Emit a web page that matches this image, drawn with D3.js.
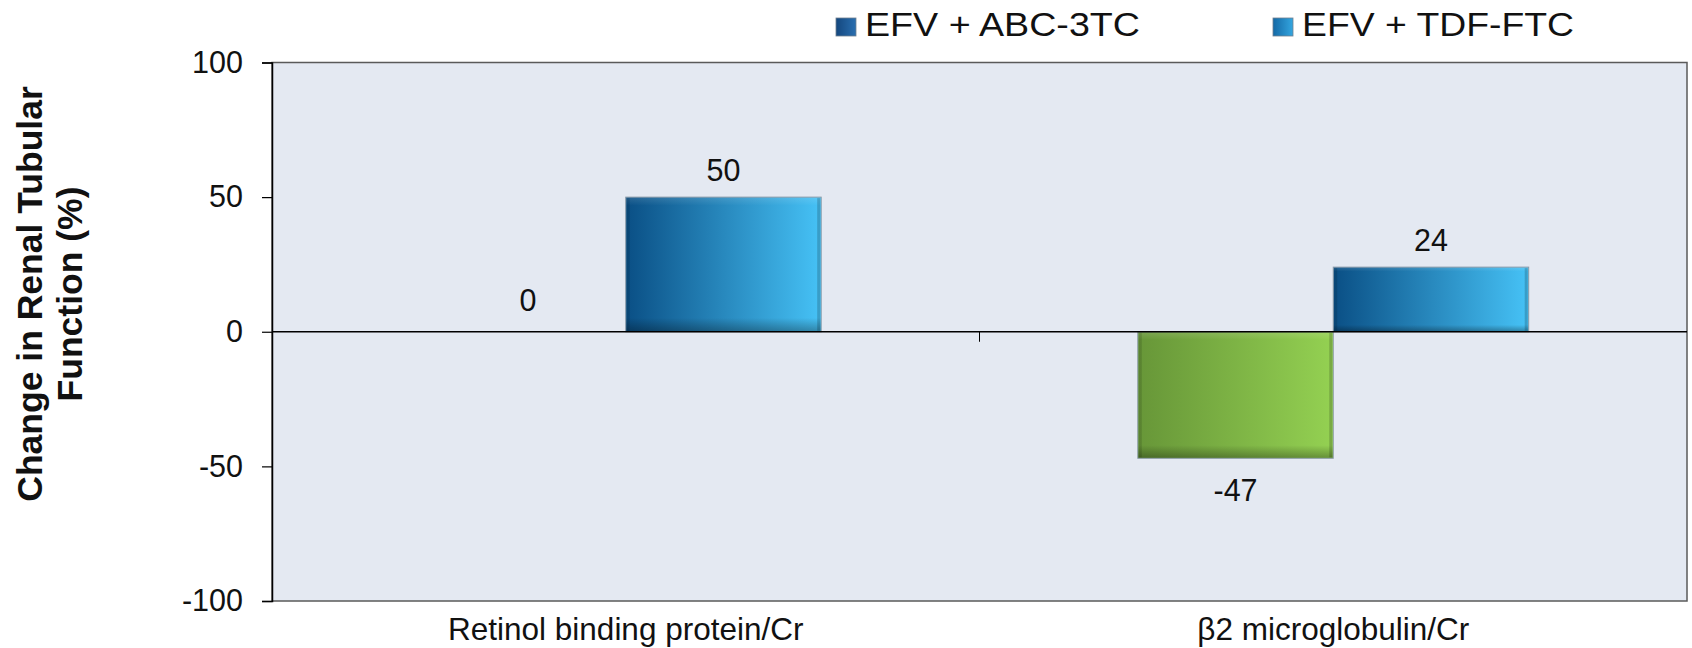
<!DOCTYPE html>
<html><head><meta charset="utf-8">
<script src="https://cdn.jsdelivr.net/npm/d3@7"></script>
<style>html,body{margin:0;padding:0;background:#fff;} svg{display:block;font-family:"Liberation Sans",Arial,sans-serif;}</style>
</head><body>
<svg id="chart" width="1692" height="648"></svg>
<script>
const categories = ["Retinol binding protein/Cr", "\u03B22 microglobulin/Cr"];
const seriesNames = ["EFV + ABC-3TC", "EFV + TDF-FTC"];
const abcValues = [0, -47];
const tdfValues = [50, 24];
const yTicks = [-100, -50, 0, 50, 100];
const yTitleLines = ["Change in Renal Tubular", "Function (%)"];

const W = 1692, H = 648;
const m = {left: 272, right: 5, top: 62.5, bottom: 47};
const svg = d3.select("#chart");
const defs = svg.append("defs");

function grad(id, c0, c1) {
  const g = defs.append("linearGradient").attr("id", id).attr("x1", "0").attr("x2", "1").attr("y1", "0").attr("y2", "0");
  g.append("stop").attr("offset", "0").attr("stop-color", c0);
  g.append("stop").attr("offset", "1").attr("stop-color", c1);
}
grad("gBlue", "#0a4f85", "#46c2f6");
grad("gGreen", "#679638", "#94d152");
grad("gLeg1", "#14477e", "#2a6fb0");
grad("gLeg2", "#1469a6", "#34a6e0");
const bv = defs.append("linearGradient").attr("id", "bevel").attr("x1", "0").attr("x2", "0").attr("y1", "0").attr("y2", "1");
bv.append("stop").attr("offset", "0").attr("stop-color", "#fff").attr("stop-opacity", 0.12);
bv.append("stop").attr("offset", "0.06").attr("stop-color", "#fff").attr("stop-opacity", 0);
bv.append("stop").attr("offset", "0.9").attr("stop-color", "#000").attr("stop-opacity", 0);
bv.append("stop").attr("offset", "1").attr("stop-color", "#000").attr("stop-opacity", 0.3);

const x0 = d3.scaleBand().domain(categories).range([m.left, W - m.right]).paddingInner(0).paddingOuter(0);
const x1 = d3.scaleBand().domain(seriesNames).range([0, x0.bandwidth()]).paddingInner(0).paddingOuter(0.81);
const y = d3.scaleLinear().domain([-100, 100]).range([H - m.bottom, m.top]);

svg.append("rect").attr("x", m.left).attr("y", y(100)).attr("width", W - m.right - m.left).attr("height", y(-100) - y(100))
  .attr("fill", "#e4e9f2").attr("stroke", "#5a5a5a").attr("stroke-width", 1.5);

const data = [];
categories.forEach((c, i) => {
  data.push({cat: c, s: seriesNames[0], v: abcValues[i]});
  data.push({cat: c, s: seriesNames[1], v: tdfValues[i]});
});

const bars = svg.append("g");
data.filter(d => d.v !== 0).forEach(d => {
  const bx = x0(d.cat) + x1(d.s), bw = x1.bandwidth();
  const by = y(Math.max(0, d.v)), bh = Math.abs(y(d.v) - y(0));
  const fill = d.s === seriesNames[0] ? "url(#gGreen)" : "url(#gBlue)";
  bars.append("rect").attr("x", bx).attr("y", by).attr("width", bw).attr("height", bh)
    .attr("fill", fill).attr("stroke", "#8a9aa8").attr("stroke-width", 1);
  bars.append("rect").attr("x", bx + 0.5).attr("y", by + 0.5).attr("width", bw - 1).attr("height", bh - 1)
    .attr("fill", "url(#bevel)");
  bars.append("rect").attr("x", bx + bw - 4).attr("y", by + 1).attr("width", 3).attr("height", bh - 2)
    .attr("fill", "#000").attr("opacity", 0.18);
  bars.append("rect").attr("x", bx + 1).attr("y", by + 1).attr("width", 3).attr("height", bh - 2)
    .attr("fill", "#000").attr("opacity", 0.12);
});

svg.append("line").attr("x1", m.left).attr("x2", W - m.right).attr("y1", y(0)).attr("y2", y(0))
  .attr("stroke", "#000").attr("stroke-width", 1.5);
svg.append("line").attr("x1", x0(categories[1])).attr("x2", x0(categories[1])).attr("y1", y(0)).attr("y2", y(0) + 10)
  .attr("stroke", "#000").attr("stroke-width", 1);

const yAxis = d3.axisLeft(y).tickValues(yTicks).tickSize(10).tickPadding(19).tickFormat(d => String(d));
const ya = svg.append("g").attr("transform", `translate(${m.left},0)`).call(yAxis);
ya.select(".domain").attr("stroke", "#000").attr("stroke-width", 1.5);
ya.selectAll(".tick line").attr("stroke", "#000").attr("stroke-width", 1.2);
ya.selectAll(".tick text").attr("font-size", 30.5).attr("fill", "#111").attr("font-family", "Liberation Sans, Arial, sans-serif");

svg.append("g").selectAll("text").data(categories).join("text")
  .attr("x", d => x0(d) + x0.bandwidth() / 2).attr("y", 640)
  .attr("text-anchor", "middle").attr("font-size", 31.5).attr("fill", "#111").text(d => d);

svg.append("g").selectAll("text").data(data).join("text")
  .attr("x", d => x0(d.cat) + x1(d.s) + x1.bandwidth() / 2)
  .attr("y", d => d.v > 0 ? y(d.v) - 16 : d.v < 0 ? y(d.v) + 43 : y(0) - 21)
  .attr("text-anchor", "middle").attr("font-size", 30.5).attr("fill", "#111").text(d => String(d.v));

const yt = svg.append("text").attr("transform", `translate(42,294) rotate(-90)`)
  .attr("text-anchor", "middle").attr("font-weight", "bold").attr("font-size", 35.5).attr("fill", "#111");
yTitleLines.forEach((t, i) => yt.append("tspan").attr("x", 0).attr("dy", i === 0 ? 0 : 40).text(t));

const legX = [836, 1273];
const legLen = [275, 272];
const lg = svg.append("g");
seriesNames.forEach((s, i) => {
  lg.append("rect").attr("x", legX[i]).attr("y", 18).attr("width", 20).attr("height", 18)
    .attr("fill", i === 0 ? "url(#gLeg1)" : "url(#gLeg2)").attr("stroke", "#6f7f90").attr("stroke-width", 0.8);
  lg.append("text").attr("x", legX[i] + 29).attr("y", 36).attr("font-size", 32.5)
    .attr("textLength", legLen[i]).attr("lengthAdjust", "spacingAndGlyphs").attr("fill", "#111").text(s);
});
</script>
</body></html>
